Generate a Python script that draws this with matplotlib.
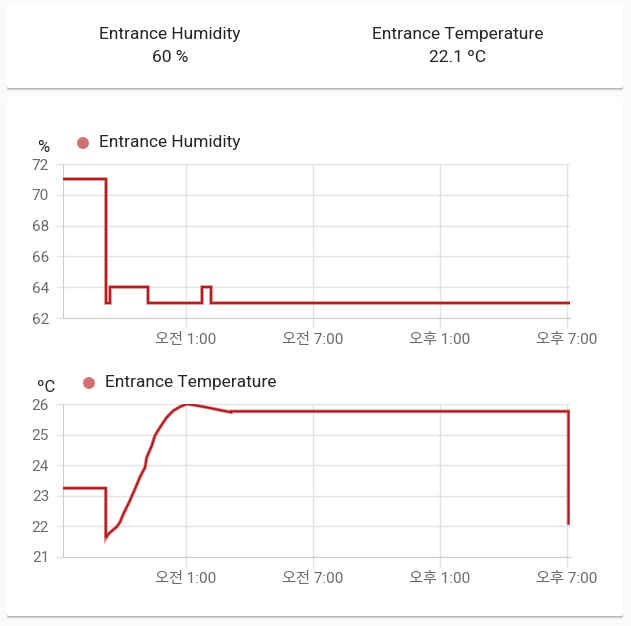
import matplotlib
matplotlib.use("Agg")
import matplotlib.pyplot as plt
from matplotlib.patches import FancyBboxPatch, Circle

plt.rcParams["font.family"] = ["Roboto", "Noto Sans CJK KR", "DejaVu Sans"]

# --- data (hours relative to midnight) ---
HUM_T = [-4.78, -2.76, -2.56, -0.78, 1.79, 2.19, 19.14]
HUM_V = [71, 63, 64, 63, 64, 63, 63]

# temperature drawn as a plain line; repeated times are the step changes
TEMP_T = [-4.78, -2.76, -2.76, -2.64, -2.48, -2.25, -2.09, -1.93, -1.77, -1.62,
          -1.38, -1.15, -0.91, -0.83, -0.59, -0.44, -0.20, 0.11, 0.42, 0.74,
          1.06, 1.53, 2.00, 2.63, 3.15, 3.15, 19.07, 19.07]
TEMP_V = [23.25, 23.25, 21.62, 21.75, 21.85, 21.98, 22.14, 22.41, 22.63, 22.85,
          23.23, 23.61, 23.93, 24.26, 24.64, 24.97, 25.24, 25.56, 25.78, 25.91,
          26.0, 25.95, 25.89, 25.80, 25.73, 25.76, 25.76, 22.1]

X_TICKS = [1, 7, 13, 19]
X_LABELS = ["오전 1:00", "오전 7:00", "오후 1:00", "오후 7:00"]
X_LIM = (-4.78, 19.14)

HUM_TICKS = [62, 64, 66, 68, 70, 72]
TEMP_TICKS = [21, 22, 23, 24, 25, 26]

# --- style ---
BG = "#fafafa"
CARD = "#ffffff"
INK = "#262626"
TICK = "#6b6b6b"
GRID = "#e3e3e3"
LINE = "#b3191c"
LINE_SOFT = "#dc8c8c"
DOT = "#d17373"

W, H = 631, 626
fig = plt.figure(figsize=(W / 100, H / 100), dpi=100)
fig.patch.set_facecolor(BG)


def px(x, y):
    return x / W, 1 - y / H


def card(x0, y0, x1, y1):
    for off, a in [(3, 0.06), (2, 0.10), (1, 0.14)]:
        sx, sy = px(x0, y1 + off)
        fig.patches.append(FancyBboxPatch(
            (sx, sy), (x1 - x0) / W, (y1 - y0) / H,
            boxstyle="round,pad=0,rounding_size=0.003", transform=fig.transFigure,
            facecolor="#000000", alpha=a, edgecolor="none", zorder=-3))
    bx, by = px(x0, y1)
    fig.patches.append(FancyBboxPatch(
        (bx, by), (x1 - x0) / W, (y1 - y0) / H,
        boxstyle="round,pad=0,rounding_size=0.003", transform=fig.transFigure,
        facecolor=CARD, edgecolor="none", zorder=-2))


card(7, 3, 623, 88)
card(7, 97, 623, 616)

# top state card
for cx, name, val in [(170, "Entrance Humidity", "60 %"),
                      (458, "Entrance Temperature", "22.1 ºC")]:
    fig.text(*px(cx, 34), name, ha="center", va="center", fontsize=12.5, color=INK)
    fig.text(*px(cx, 58), val, ha="center", va="center", fontsize=12.5, color=INK)


def chart(top, bottom, t, v, ticks, unit, unit_x, dot_x, label, style):
    l, b = px(63, bottom)
    r, tp = px(570, top)
    ax = fig.add_axes([l, b, r - l, tp - b], zorder=2)
    ax.set_facecolor("none")
    ax.plot(t, v, drawstyle=style, color=LINE_SOFT, lw=2.6,
            solid_joinstyle="miter", zorder=3)
    ax.plot(t, v, drawstyle=style, color=LINE, lw=1.4,
            solid_joinstyle="miter", zorder=4)
    ax.set_xlim(*X_LIM)
    ax.set_ylim(ticks[0], ticks[-1])
    ax.set_xticks(X_TICKS)
    ax.set_xticklabels(X_LABELS)
    ax.set_yticks(ticks)
    ax.grid(True, color=GRID, lw=1)
    ax.set_axisbelow(True)
    ax.tick_params(axis="x", length=7, width=1, color=GRID, pad=4,
                   labelsize=11, labelcolor=TICK)
    ax.tick_params(axis="y", length=5, width=1, color=GRID, pad=5,
                   labelsize=11, labelcolor=TICK)
    for s in ["top", "right"]:
        ax.spines[s].set_visible(False)
    for s in ["left", "bottom"]:
        ax.spines[s].set_color("#cccccc")
    fig.text(*px(unit_x, top - 16), unit, ha="center", va="center",
             fontsize=12, color=INK)
    dx, dy = px(dot_x, top - 21)
    fig.patches.append(Circle((dx, dy), 6 / W, transform=fig.transFigure,
                              facecolor=DOT, edgecolor="none", zorder=5))
    fig.text(*px(dot_x + 16, top - 21), label, ha="left", va="center",
             fontsize=12.5, color=INK)
    return ax


chart(164, 318, HUM_T, HUM_V, HUM_TICKS, "%", 43, 83, "Entrance Humidity",
      "steps-post")
chart(404, 557, TEMP_T, TEMP_V, TEMP_TICKS, "ºC", 46, 89, "Entrance Temperature",
      "default")

fig.savefig("out.png", dpi=100, facecolor=BG)
